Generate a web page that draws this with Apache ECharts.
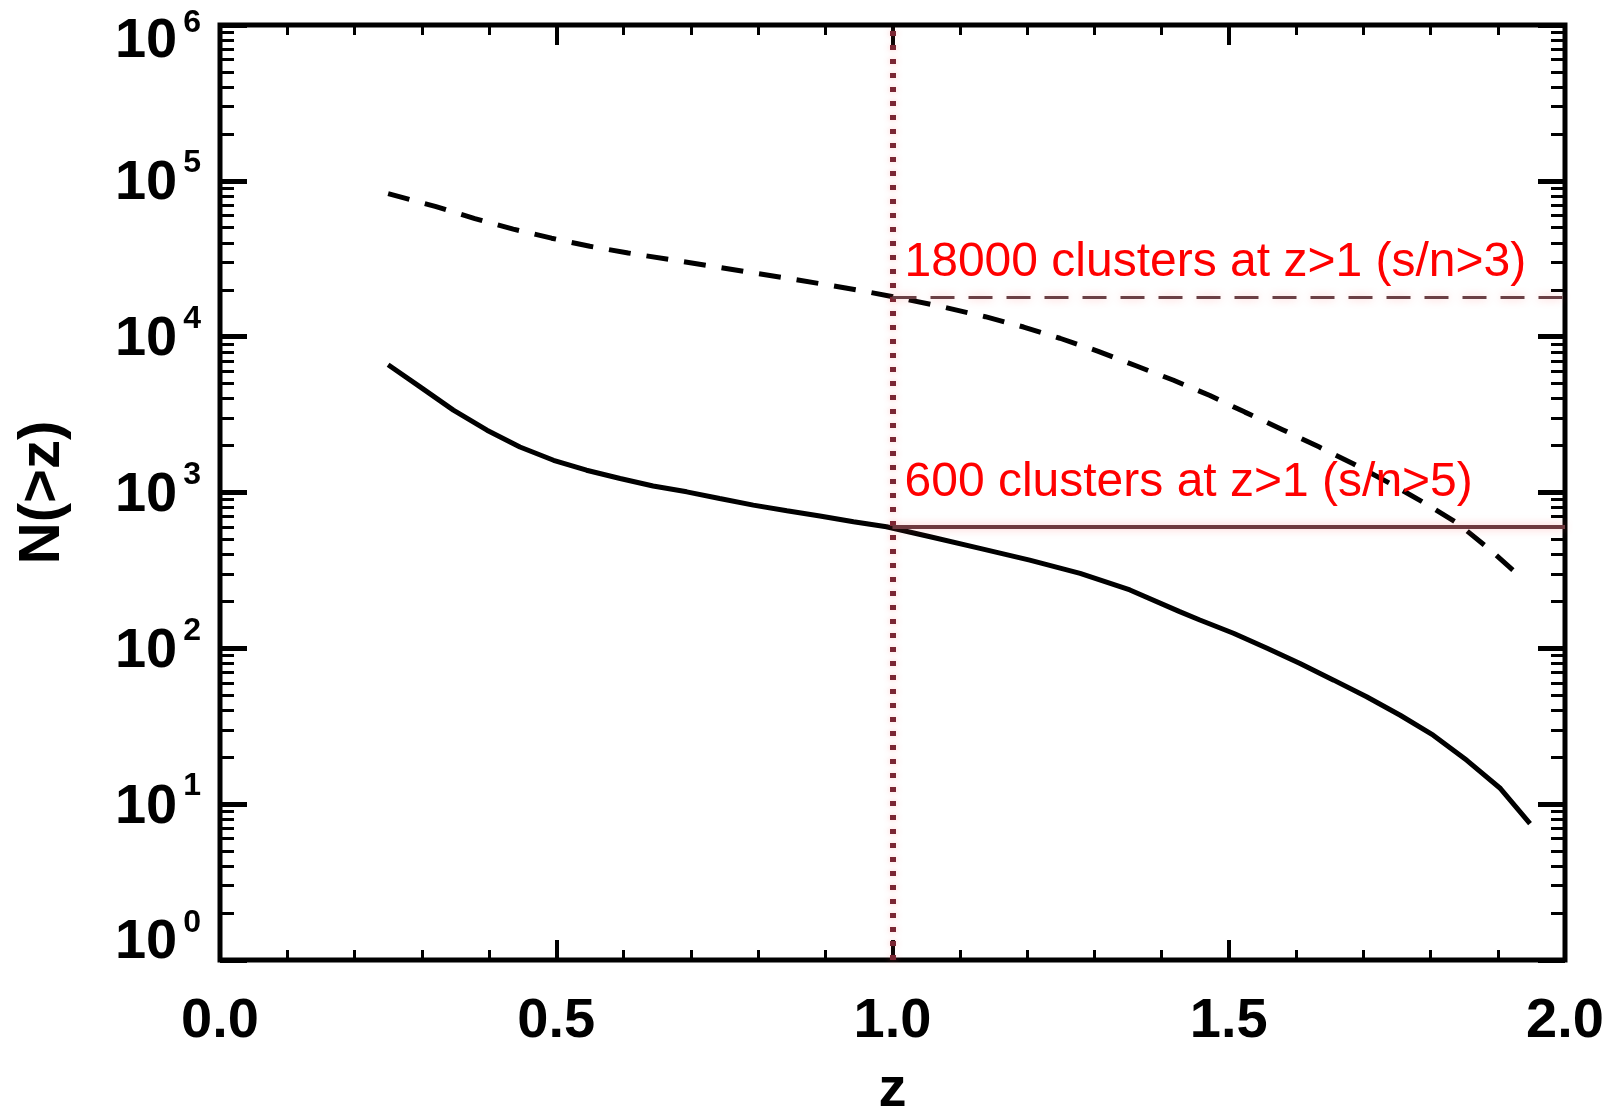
<!DOCTYPE html>
<html>
<head>
<meta charset="utf-8">
<script src="https://cdn.jsdelivr.net/npm/echarts@6/dist/echarts.min.js"></script>
<style>
html,body{margin:0;padding:0;background:#fff;}
#chart{width:1618px;height:1117px;}
</style>
</head>
<body>
<div id="chart"></div>
<script>
// ---- data ----
const zSN5 = [0.25, 0.297, 0.347, 0.397, 0.446, 0.496, 0.545, 0.595, 0.644, 0.694, 0.743, 0.793, 0.843, 0.892, 0.942, 0.991, 1.056, 1.130, 1.204, 1.279, 1.353, 1.427, 1.457, 1.507, 1.557, 1.606, 1.656, 1.705, 1.755, 1.804, 1.854, 1.904, 1.948];
const nSN5 = [6600, 4780, 3380, 2510, 1960, 1610, 1390, 1230, 1100, 1010, 916, 830, 764, 706, 649, 603, 520, 438, 368, 303, 237, 172, 152, 125, 100, 80, 62.5, 48.9, 37.2, 27.7, 19.1, 12.6, 7.5];
const zSN3 = [0.25, 0.320, 0.379, 0.436, 0.493, 0.550, 0.607, 0.667, 0.726, 0.783, 0.845, 0.902, 0.962, 1.019, 1.078, 1.138, 1.195, 1.249, 1.306, 1.361, 1.418, 1.472, 1.524, 1.580, 1.634, 1.685, 1.740, 1.792, 1.841, 1.886, 1.931, 1.940];
const nSN3 = [82800, 68550, 57280, 48980, 42850, 38020, 34430, 31330, 28580, 26060, 23660, 21530, 19410, 17420, 15420, 13430, 11530, 9770, 8050, 6530, 5250, 4190, 3280, 2530, 1963, 1531, 1143, 851, 631, 438, 295, 272];

const xTickLabels = ['0.0', '0.5', '1.0', '1.5', '2.0'];
const xMin = 0, xMax = 2, xStep = 0.5, xMinorPerMajor = 5;
const yDecadeExponents = [0, 1, 2, 3, 4, 5, 6];
const minorMultipliers = [2, 3, 4, 5, 6, 7, 8, 9];

const thresholdZ = 1.0;
const countSN3 = 18000;
const countSN5 = 600;
const labelSN3 = '18000 clusters at z>1 (s/n>3)';
const labelSN5 = '600 clusters at z>1 (s/n>5)';

// ---- derived tick positions ----
const yMinExp = yDecadeExponents[0];
const yMaxExp = yDecadeExponents[yDecadeExponents.length - 1];
const minorLogPositions = [];
for (let e = yMinExp; e < yMaxExp; e++) {
  minorMultipliers.forEach(m => minorLogPositions.push(Math.log10(m * Math.pow(10, e))));
}
const xMinorPositions = [];
const nMajor = Math.round((xMax - xMin) / xStep);
for (let i = 0; i < nMajor; i++) {
  for (let j = 1; j < xMinorPerMajor; j++) {
    xMinorPositions.push(+(xMin + i * xStep + j * xStep / xMinorPerMajor).toFixed(6));
  }
}

const TICK_FONT = "'Liberation Sans', Arial, sans-serif";
const baseRich = {fontFamily: TICK_FONT, fontWeight: 'bold', fontSize: 56, color: '#000'};
const supRich = {fontFamily: TICK_FONT, fontWeight: 'bold', fontSize: 32, color: '#000'};
const yRich = {
  bn: Object.assign({}, baseRich, {padding: [6, 0, 0, 0]}),
  sn: Object.assign({}, supRich, {padding: [0, 0, 35, 6]}),
  bt: Object.assign({}, baseRich, {padding: [34, 0, 0, 0]}),
  st: Object.assign({}, supRich, {padding: [0, 0, 3, 6]}),
  bb: Object.assign({}, baseRich, {padding: [0, 0, 34, 0]}),
  sb: Object.assign({}, supRich, {padding: [0, 0, 73, 6]})
};
function yLabel(v) {
  const e = Math.round(Math.log10(v));
  const k = e === yMaxExp ? 't' : (e === yMinExp ? 'b' : 'n');
  return '{b' + k + '|10}{s' + k + '|' + e + '}';
}

const black = '#000';
const noLine = {show: false, onZero: false};
const majorTickY = {show: true, inside: true, length: 27, lineStyle: {color: black, width: 5}};
const minorTickY = {show: true, inside: true, length: 14, customValues: minorLogPositions, lineStyle: {color: black, width: 3}};
const majorTickX = {show: true, inside: true, length: 20, lineStyle: {color: black, width: 4}};
const minorTickX = {show: true, inside: true, length: 10, customValues: xMinorPositions, lineStyle: {color: black, width: 3}};

const logAxisBase = {
  type: 'log', logBase: 10, min: Math.pow(10, yMinExp), max: Math.pow(10, yMaxExp),
  splitNumber: yMaxExp - yMinExp,
  axisLine: noLine, splitLine: {show: false}, minorTick: {show: false}
};
const minorYAxisBase = {
  type: 'value', min: yMinExp, max: yMaxExp,
  axisLine: noLine, splitLine: {show: false}, axisLabel: {show: false}, minorTick: {show: false}
};
const xAxisBase = {
  type: 'value', min: xMin, max: xMax, interval: xStep,
  axisLine: noLine, splitLine: {show: false}, minorTick: {show: false}
};

const chart = echarts.init(document.getElementById('chart'), null, {renderer: 'canvas'});
const option = {
  animation: false,
  backgroundColor: '#fff',
  grid: {
    left: 220, right: 53, top: 25, bottom: 157,
    show: true, borderColor: black, borderWidth: 5, backgroundColor: 'transparent',
    containLabel: false, outerBoundsMode: 'none'
  },
  xAxis: [
    Object.assign({}, xAxisBase, {
      position: 'bottom',
      axisTick: majorTickX,
      axisLabel: {
        margin: 34, color: black, fontFamily: TICK_FONT, fontWeight: 'bold', fontSize: 56,
        formatter: v => xTickLabels[Math.round((v - xMin) / xStep)]
      },
      name: 'z', nameLocation: 'middle', nameGap: 103,
      nameTextStyle: {fontFamily: 'Liberation Sans', fontWeight: 'bold', fontSize: 56, color: black}
    }),
    Object.assign({}, xAxisBase, {position: 'top', axisTick: majorTickX, axisLabel: {show: false}}),
    Object.assign({}, xAxisBase, {position: 'bottom', axisTick: minorTickX, axisLabel: {show: false}}),
    Object.assign({}, xAxisBase, {position: 'top', axisTick: minorTickX, axisLabel: {show: false}})
  ],
  yAxis: [
    Object.assign({}, logAxisBase, {
      position: 'left',
      axisTick: majorTickY,
      axisLabel: {margin: 19, formatter: yLabel, rich: yRich},
      name: 'N(>z)', nameLocation: 'middle', nameGap: 148, nameRotate: 90,
      nameTextStyle: {fontFamily: 'Liberation Sans', fontWeight: 'bold', fontSize: 58, color: black}
    }),
    Object.assign({}, minorYAxisBase, {position: 'left', axisTick: minorTickY}),
    Object.assign({}, logAxisBase, {position: 'right', axisTick: majorTickY, axisLabel: {show: false}}),
    Object.assign({}, minorYAxisBase, {position: 'right', axisTick: minorTickY})
  ],
  series: [
    {
      type: 'line', name: 's/n>5', xAxisIndex: 0, yAxisIndex: 0,
      data: zSN5.map((z, i) => [z, nSN5[i]]),
      showSymbol: false, symbol: 'none', z: 3,
      lineStyle: {color: black, width: 5, cap: 'butt'},
      markLine: {
        silent: true, symbol: ['none', 'none'], animation: false, z: 4,
        data: [
          {
            xAxis: thresholdZ,
            label: {show: false},
            lineStyle: {color: '#7a2633', width: 6, type: [5, 9], shadowBlur: 6, shadowColor: 'rgba(255,90,90,0.35)'}
          },
          [
            {
              coord: [thresholdZ, countSN5],
              lineStyle: {color: '#6e3a3f', width: 4, type: 'solid', shadowBlur: 8, shadowColor: 'rgba(255,90,90,0.35)'},
              label: {
                show: true, position: 'insideStartTop', formatter: labelSN5, distance: [12, 20],
                color: '#ff0000', fontFamily: 'Liberation Sans', fontSize: 48
              }
            },
            {coord: [xMax, countSN5]}
          ]
        ]
      }
    },
    {
      type: 'line', name: 's/n>3', xAxisIndex: 0, yAxisIndex: 0,
      data: zSN3.map((z, i) => [z, nSN3[i]]),
      showSymbol: false, symbol: 'none', z: 3,
      lineStyle: {color: black, width: 5, type: [22, 16], cap: 'butt'},
      markLine: {
        silent: true, symbol: ['none', 'none'], animation: false, z: 4,
        data: [
          [
            {
              coord: [thresholdZ, countSN3],
              lineStyle: {color: '#6b4045', width: 3, type: [24, 14], shadowBlur: 8, shadowColor: 'rgba(255,90,90,0.35)'},
              label: {
                show: true, position: 'insideStartTop', formatter: labelSN3, distance: [12, 10],
                color: '#ff0000', fontFamily: 'Liberation Sans', fontSize: 48
              }
            },
            {coord: [xMax, countSN3]}
          ]
        ]
      }
    }
  ]
};
chart.setOption(option);
</script>
</body>
</html>
